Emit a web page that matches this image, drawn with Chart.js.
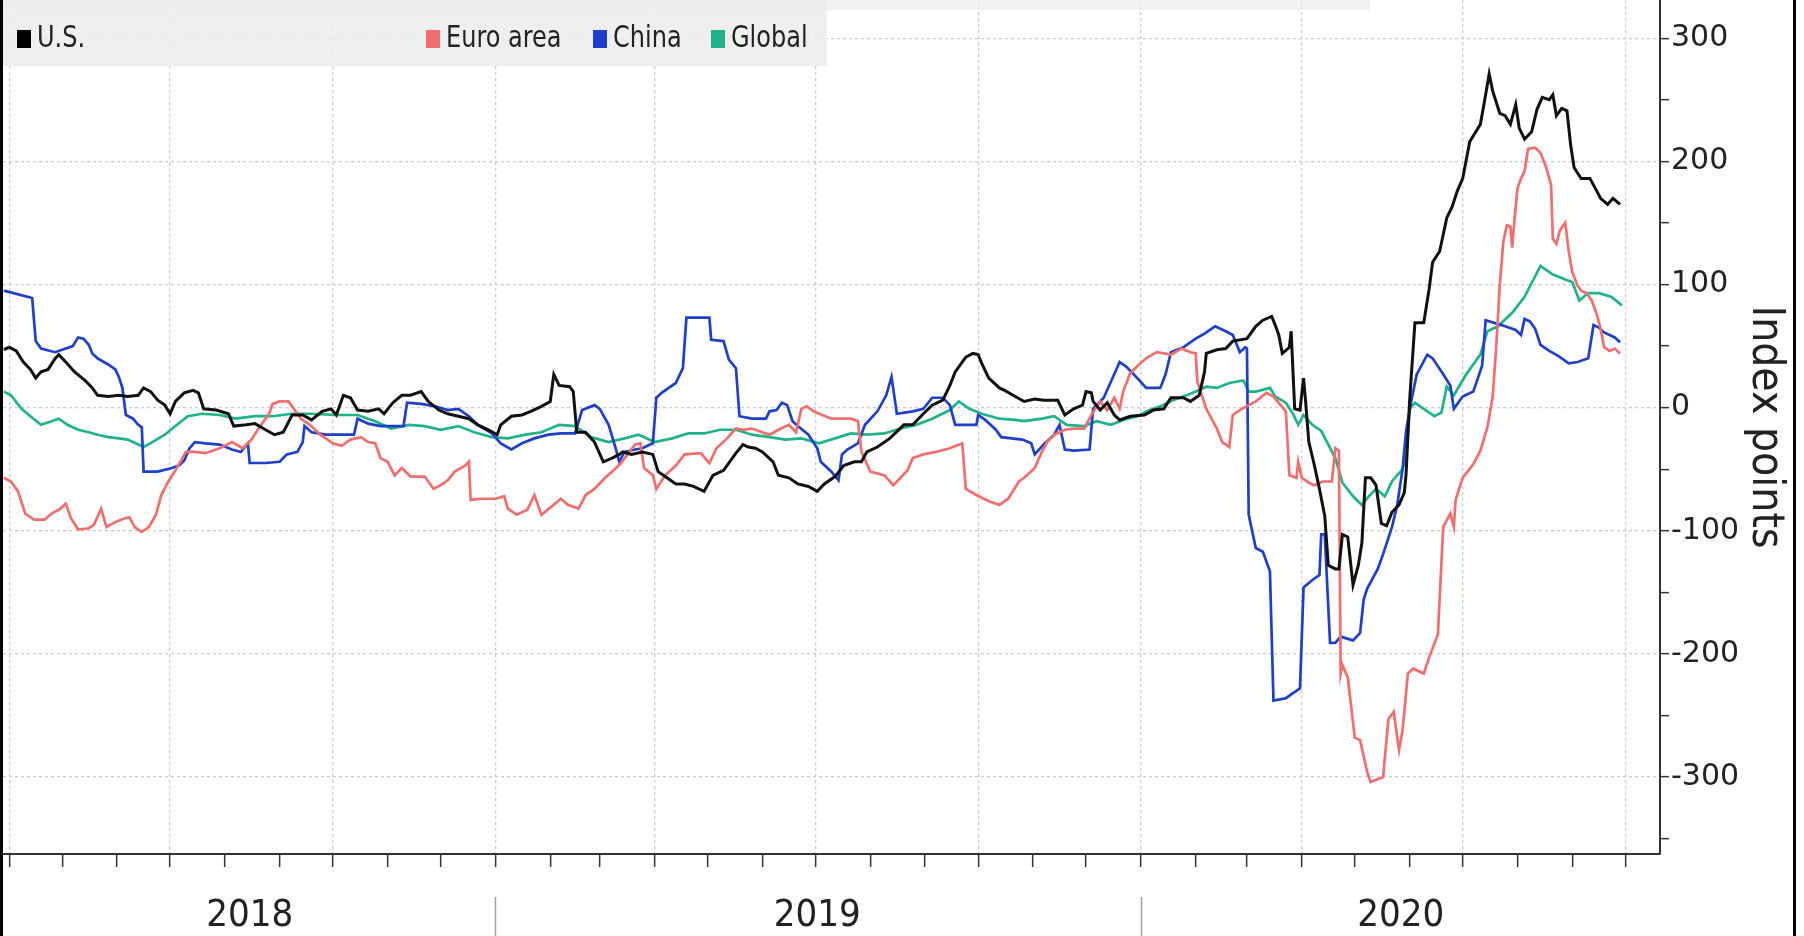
<!DOCTYPE html>
<html>
<head>
<meta charset="utf-8">
<script src="https://cdn.jsdelivr.net/npm/chart.js@4.4.1/dist/chart.umd.min.js"></script>
<style>
    html, body { margin: 0; padding: 0; background: #fff; }
    #wrap { position: relative; width: 1804px; height: 936px; }
    #legendTop { position: absolute; left: 3px; top: 0; width: 1367px; height: 10px; background: rgba(238,238,238,0.75); }
    #legend { position: absolute; left: 3px; top: 0; width: 824px; height: 66px; background: rgba(236,236,236,0.85); }
    .item { position: absolute; top: 20px; font-family: "DejaVu Sans Condensed", "Liberation Sans Narrow", "Liberation Sans", sans-serif; font-size: 30px; line-height: 34px; color: #222; white-space: nowrap; }
    .swatch { display: inline-block; width: 14px; height: 18px; margin-right: 6px; vertical-align: -1px; }
    .label { display: inline-block; transform: scaleX(0.89); transform-origin: left center; }
</style>
</head>
<body>
<div id="wrap">
    <canvas id="myChart"></canvas>
    <div id="legendTop"></div>
    <div id="legend"></div>
</div>
<script>
// x values are days counted from 1 April 2018
const monthStarts = [0, 30, 61, 91, 122, 153, 183, 214, 244, 275, 306, 334, 365, 395, 426, 456, 487, 518, 548, 579, 609, 640, 671, 700, 731, 761, 792, 822, 853, 884, 914]
const yearStarts = [275, 640]
const yearCenters = [136, 457, 787]
const yearLabels = ["2018", "2019", "2020"]
const yTickValues = [-350, -300, -250, -200, -150, -100, -50, 0, 50, 100, 150, 200, 250, 300]

const seriesNames = ["U.S.", "Euro area", "China", "Global"]
const seriesColors = ["#111111", "#f06e6e", "#1f3fc9", "#20b38a"]

const usDays = [-3, 0, 4, 8, 12, 15, 18, 22, 26, 28, 32, 37, 43, 47, 50, 56, 62, 67, 73, 76,
    80, 84, 88, 91, 94, 99, 104, 107, 110, 117, 124, 127, 134, 139, 145, 150, 155, 160, 166, 171,
    177, 182, 185, 189, 193, 197, 203, 209, 212, 217, 222, 227, 233, 237, 243, 248, 254, 260, 265, 271,
    276, 278, 284, 290, 295, 301, 306, 308, 311, 317, 319, 321, 326, 331, 336, 341, 345, 347, 352, 358,
    364, 367, 372, 377, 382, 387, 393, 398, 404, 411, 415, 418, 422, 426, 432, 435, 441, 446, 452, 457,
    461, 467, 472, 478, 482, 485, 491, 498, 506, 511, 517, 522, 528, 532, 535, 541, 545, 548, 550, 554,
    560, 563, 569, 574, 580, 585, 593, 597, 602, 607, 609, 612, 613, 617, 621, 625, 628, 634, 642, 647,
    653, 657, 664, 668, 673, 676, 677, 683, 688, 692, 700, 705, 709, 714, 716, 718, 720, 724, 725, 727,
    730, 732, 733, 735, 738, 741, 744, 746, 750, 752, 754, 757, 760, 763, 765, 767, 770, 773, 776, 779,
    782, 786, 789, 790, 792, 795, 800, 803, 805, 809, 813, 816, 819, 822, 826, 829, 832, 834, 837, 839,
    843, 846, 849, 852, 854, 857, 861, 864, 867, 871, 873, 875, 878, 881, 883, 885, 889, 894, 897, 900,
    904, 907, 911]
const usValues = [47, 49, 46, 37, 31, 24, 29, 31, 40, 43, 37, 29, 22, 16, 10, 9, 10, 9, 10, 16,
    13, 6, 2, -5, 5, 12, 14, 12, -1, -2, -5, -15, -14, -13, -18, -22, -20, -6, -6, -10,
    -3, -1, -6, 10, 8, -2, -3, -1, -5, 4, 10, 10, 13, 5, -2, -5, -7, -9, -14, -18,
    -22, -14, -7, -6, -3, 1, 5, 27, 18, 17, 13, -20, -20, -28, -44, -41, -38, -36, -38, -36,
    -38, -52, -57, -62, -62, -64, -68, -55, -51, -37, -30, -32, -33, -36, -44, -55, -57, -62, -64, -68,
    -62, -56, -47, -44, -44, -36, -32, -25, -14, -14, -5, 2, 6, 18, 29, 41, 44, 43, 36, 24,
    16, 14, 9, 5, 7, 6, 6, -6, -1, 2, 13, 12, 5, -2, 4, -6, -10, -7, -6, -2,
    -1, 8, 8, 5, 10, 29, 44, 47, 48, 54, 56, 66, 71, 74, 67, 59, 44, 49, 62, -1,
    -2, 24, 8, -28, -46, -66, -88, -128, -131, -131, -103, -105, -144, -128, -110, -57, -57, -63, -94, -96,
    -85, -79, -69, -54, 6, 69, 69, 96, 118, 127, 154, 163, 176, 186, 216, 223, 230, 246, 271, 257,
    239, 237, 230, 246, 227, 218, 224, 242, 252, 250, 254, 237, 243, 241, 214, 195, 186, 186, 178, 170,
    165, 170, 165]

const euroDays = [-3, 1, 5, 9, 14, 20, 24, 29, 32, 35, 39, 45, 48, 52, 55, 60, 65, 68, 71, 75,
    79, 83, 86, 90, 94, 100, 105, 111, 119, 126, 132, 137, 141, 147, 149, 153, 158, 161, 165, 170,
    176, 183, 188, 193, 199, 203, 207, 210, 214, 218, 222, 227, 235, 240, 244, 248, 252, 258, 260, 261,
    267, 275, 280, 282, 287, 293, 297, 301, 307, 312, 316, 322, 326, 331, 337, 341, 346, 354, 357, 359,
    364, 366, 371, 377, 382, 391, 396, 400, 406, 411, 415, 420, 430, 435, 441, 445, 448, 451, 455, 458,
    465, 471, 476, 480, 482, 487, 495, 500, 508, 511, 517, 524, 532, 539, 541, 547, 554, 560, 565, 571,
    574, 580, 584, 587, 591, 597, 602, 608, 612, 617, 621, 625, 628, 630, 634, 639, 643, 649, 657, 663,
    668, 671, 672, 677, 683, 686, 690, 692, 696, 701, 705, 711, 715, 722, 724, 728, 729, 731, 735, 738,
    743, 748, 750, 752, 753, 754, 757, 761, 764, 768, 770, 777, 780, 783, 786, 788, 791, 794, 800, 803,
    808, 811, 815, 817, 818, 822, 828, 832, 836, 839, 841, 843, 845, 847, 849, 850, 851, 853, 855, 857,
    859, 863, 866, 869, 872, 873, 875, 877, 880, 882, 884, 887, 889, 892, 895, 898, 900, 902, 905, 908,
    911]
const euroValues = [-57, -60, -68, -86, -91, -91, -86, -82, -78, -90, -99, -98, -95, -82, -97, -93, -90, -89, -97, -101,
    -97, -87, -71, -60, -51, -36, -36, -37, -33, -28, -33, -26, -17, -5, 3, 5, 5, -1, -9, -14,
    -22, -29, -31, -26, -24, -28, -29, -41, -44, -55, -49, -56, -56, -66, -63, -59, -52, -47, -44, -75,
    -74, -74, -72, -82, -87, -83, -71, -87, -80, -74, -79, -82, -71, -66, -57, -52, -45, -30, -29, -49,
    -55, -66, -55, -47, -38, -37, -45, -33, -25, -17, -18, -17, -22, -18, -14, -20, -1, 1, -3, -5,
    -9, -9, -9, -11, -36, -52, -55, -63, -51, -41, -38, -36, -33, -29, -66, -71, -76, -79, -74, -60,
    -57, -49, -36, -28, -22, -18, -17, -17, -6, 5, -2, 8, -1, 13, 28, 35, 40, 45, 43, 48,
    45, 44, 21, -1, -17, -28, -32, -6, -2, 2, 5, 12, 9, -3, -55, -57, -44, -57, -61, -63,
    -60, -60, -33, -35, -216, -209, -219, -268, -270, -296, -304, -300, -253, -247, -278, -262, -216, -212, -216, -203,
    -184, -97, -86, -97, -75, -57, -46, -35, -16, 9, 50, 100, 135, 148, 147, 130, 148, 178, 186, 192,
    210, 211, 207, 196, 181, 137, 133, 144, 150, 127, 110, 99, 95, 93, 87, 75, 64, 49, 46, 48,
    44]

const chinaDays = [-3, 13, 15, 18, 26, 32, 36, 39, 42, 45, 47, 50, 56, 60, 62, 64, 66, 70, 73, 75,
    76, 84, 92, 96, 99, 102, 105, 111, 119, 126, 131, 135, 136, 145, 153, 157, 163, 166, 167, 171,
    179, 185, 195, 197, 203, 210, 218, 223, 225, 233, 241, 248, 254, 260, 265, 273, 278, 284, 290, 297,
    305, 312, 320, 324, 331, 334, 339, 343, 345, 348, 354, 358, 364, 366, 369, 373, 377, 380, 381, 383,
    396, 397, 404, 407, 411, 413, 420, 428, 430, 434, 437, 440, 443, 446, 452, 457, 459, 465, 469, 471,
    474, 480, 484, 491, 496, 499, 502, 511, 517, 522, 528, 532, 535, 547, 548, 552, 558, 561, 573, 578,
    580, 585, 591, 594, 597, 602, 611, 613, 619, 624, 628, 632, 638, 643, 651, 654, 657, 664, 671, 676,
    682, 688, 692, 696, 699, 700, 701, 705, 709, 713, 715, 722, 730, 732, 737, 741, 742, 744, 747, 750,
    753, 760, 764, 766, 768, 774, 777, 782, 785, 788, 790, 793, 796, 802, 805, 811, 815, 817, 822, 828,
    833, 835, 844, 852, 855, 857, 860, 863, 866, 871, 876, 882, 887, 893, 896, 899, 902, 908, 911]
const chinaValues = [95, 89, 54, 48, 45, 48, 50, 57, 56, 51, 44, 40, 35, 31, 25, 16, -6, -9, -14, -16,
    -52, -52, -49, -47, -43, -33, -28, -29, -30, -34, -36, -29, -45, -45, -44, -38, -36, -28, -15, -20,
    -22, -22, -22, -9, -13, -15, -15, -15, 4, 3, 1, -2, -1, -7, -14, -21, -29, -34, -29, -25,
    -22, -21, -21, -2, 2, -1, -14, -33, -44, -36, -34, -33, -29, 8, 12, 16, 20, 29, 32, 73,
    73, 55, 54, 39, 32, -7, -9, -9, -3, -2, 4, 2, -11, -15, -22, -33, -44, -52, -59, -38,
    -34, -29, -14, -3, 10, 25, -5, -3, -1, 8, 8, 2, -14, -14, -6, -10, -18, -24, -26, -29,
    -38, -30, -22, -14, -34, -35, -34, -1, 8, 24, 37, 33, 24, 16, 16, 27, 45, 49, 56, 60,
    66, 62, 59, 45, 49, 48, -87, -114, -117, -133, -238, -236, -228, -146, -140, -136, -103, -103, -191, -191,
    -186, -189, -183, -156, -147, -131, -119, -97, -79, -50, -19, 6, 27, 43, 40, 27, 18, -1, 9, 13,
    34, 71, 67, 63, 59, 72, 70, 64, 51, 46, 42, 36, 37, 40, 67, 65, 61, 57, 53]

const globalDays = [-3, 1, 7, 12, 18, 24, 28, 33, 39, 45, 50, 56, 62, 67, 73, 76, 81, 88, 94, 101,
    109, 119, 128, 139, 149, 160, 170, 185, 197, 207, 216, 226, 235, 244, 254, 263, 273, 282, 292, 301,
    311, 320, 329, 339, 348, 356, 365, 375, 384, 393, 402, 411, 420, 430, 439, 448, 458, 467, 476, 485,
    495, 504, 513, 522, 532, 537, 543, 550, 560, 569, 574, 584, 591, 598, 608, 615, 623, 630, 638, 645,
    651, 658, 666, 671, 677, 683, 690, 698, 701, 705, 713, 716, 722, 726, 729, 732, 737, 742, 750, 754,
    760, 765, 769, 773, 778, 782, 788, 790, 792, 795, 800, 806, 810, 813, 817, 824, 832, 836, 842, 850,
    857, 866, 873, 880, 884, 888, 893, 899, 906, 912]
const globalValues = [13, 10, -1, -7, -14, -11, -9, -14, -18, -20, -22, -24, -25, -26, -30, -32, -28, -22, -15, -7,
    -5, -6, -9, -7, -7, -5, -5, -6, -6, -11, -17, -14, -15, -18, -15, -20, -24, -25, -22, -20,
    -14, -15, -24, -28, -25, -22, -28, -25, -21, -21, -18, -18, -22, -24, -26, -25, -29, -25, -21, -22,
    -21, -17, -14, -9, -2, 5, -1, -5, -9, -10, -11, -9, -7, -14, -15, -11, -14, -10, -7, -2,
    1, 6, 10, 13, 17, 16, 20, 22, 13, 13, 16, 9, 4, -5, -14, -6, -14, -19, -41, -61,
    -72, -79, -72, -66, -72, -60, -50, -41, -1, 4, -1, -7, -4, 17, 10, 27, 43, 62, 66, 77,
    90, 115, 108, 104, 102, 87, 93, 93, 90, 83]

const seriesDays = [usDays, euroDays, chinaDays, globalDays]
const seriesValues = [usValues, euroValues, chinaValues, globalValues]

const narrowFont = '"DejaVu Sans Condensed", "Liberation Sans Narrow", "Liberation Sans", sans-serif'

// legend (positions follow the original's uneven spacing)
const legendLeft = [14, 423, 590, 708]
const legend = document.getElementById("legend")
seriesNames.map((name, i) => {
    const item = document.createElement("div")
    item.className = "item"
    item.style.left = legendLeft[i] + "px"
    item.innerHTML = '<span class="swatch" style="background:' + (i == 0 ? "#000" : seriesColors[i]) + '"></span><span class="label">' + name + '</span>'
    legend.appendChild(item)
})

const framePlugin = {
    id: "frame",
    afterDraw(chart) {
        const ctx = chart.ctx
        const x = chart.scales.x
        ctx.save()
        ctx.strokeStyle = "#a0a0a0"
        ctx.lineWidth = 1.5
        yearStarts.map((d) => {
            const px = Math.round(x.getPixelForValue(d)) + 0.5
            ctx.beginPath()
            ctx.moveTo(px, 897)
            ctx.lineTo(px, 936)
            ctx.stroke()
        })
        ctx.fillStyle = "#000"
        ctx.fillRect(0, 0, 3, chart.height)
        ctx.fillRect(1793, 0, 3, chart.height)
        ctx.restore()
    }
}

const datasets = seriesNames.map((name, i) => ({
    label: name,
    data: seriesDays[i].map((d, j) => ({ x: d, y: seriesValues[i][j] })),
    borderColor: seriesColors[i],
    backgroundColor: seriesColors[i],
    borderWidth: i == 0 ? 3 : 2.7,
    pointRadius: 0,
    tension: 0,
    fill: false
}))

const config = {
    type: "line",
    data: { datasets: datasets },
    options: {
        responsive: true,
        maintainAspectRatio: false,
        animation: false,
        devicePixelRatio: 1,
        layout: { padding: { left: 3, right: 0, top: 0, bottom: 0 } },
        plugins: {
            legend: { display: false },
            tooltip: { enabled: false }
        },
        scales: {
            x: {
                type: "linear",
                position: "bottom",
                weight: 0,
                min: -3.5,
                max: 933.6,
                afterBuildTicks: (scale) => {
                    scale.ticks = monthStarts.map((v) => ({ value: v }))
                },
                afterFit: (scale) => {
                    scale.height = 13
                    scale.paddingLeft = 0
                    scale.paddingRight = 0
                },
                ticks: { display: false, autoSkip: false, maxRotation: 0 },
                grid: {
                    color: (c) => (c.index % 3 == 0 ? "#cccccc" : "rgba(0,0,0,0)"),
                    lineWidth: 1.3,
                    drawTicks: true,
                    tickLength: 13,
                    tickColor: "#333",
                    tickWidth: 1.5
                },
                border: { display: true, color: "#333", width: 2, dash: [3, 3] }
            },
            years: {
                type: "linear",
                position: "bottom",
                weight: 1,
                min: -3.5,
                max: 933.6,
                afterBuildTicks: (scale) => {
                    scale.ticks = yearCenters.map((v) => ({ value: v }))
                },
                afterFit: (scale) => {
                    scale.height = 69
                    scale.paddingLeft = 0
                    scale.paddingRight = 0
                },
                ticks: {
                    autoSkip: false,
                    maxRotation: 0,
                    padding: 18,
                    color: "#222",
                    font: { family: narrowFont, size: 38 },
                    callback: (v, i) => yearLabels[i]
                },
                grid: { display: false },
                border: { display: false }
            },
            y: {
                type: "linear",
                position: "right",
                min: -362.5,
                max: 331,
                afterBuildTicks: (scale) => {
                    scale.ticks = yTickValues.map((v) => ({ value: v }))
                },
                afterFit: (scale) => {
                    scale.width = 144
                    scale.paddingTop = 0
                    scale.paddingBottom = 0
                },
                ticks: {
                    autoSkip: false,
                    padding: 2,
                    color: "#222",
                    font: { family: '"DejaVu Sans", sans-serif', size: 30 },
                    callback: (v) => (v % 100 == 0 ? String(v) : "")
                },
                grid: {
                    color: (c) => (c.tick && c.tick.value % 100 == 0 ? "#cccccc" : "rgba(0,0,0,0)"),
                    lineWidth: 1.3,
                    drawTicks: true,
                    tickLength: 9,
                    tickColor: "#333",
                    tickWidth: 1.5
                },
                border: { display: true, color: "#333", width: 2, dash: [3, 3] },
                title: {
                    display: true,
                    text: "Index points",
                    color: "#222",
                    padding: { top: 13, bottom: 0 },
                    font: { family: narrowFont, size: 44 }
                }
            }
        }
    },
    plugins: [framePlugin]
}

const ctx = document.getElementById("myChart").getContext("2d")
const myChart = new Chart(ctx, config)
</script>
</body>
</html>
